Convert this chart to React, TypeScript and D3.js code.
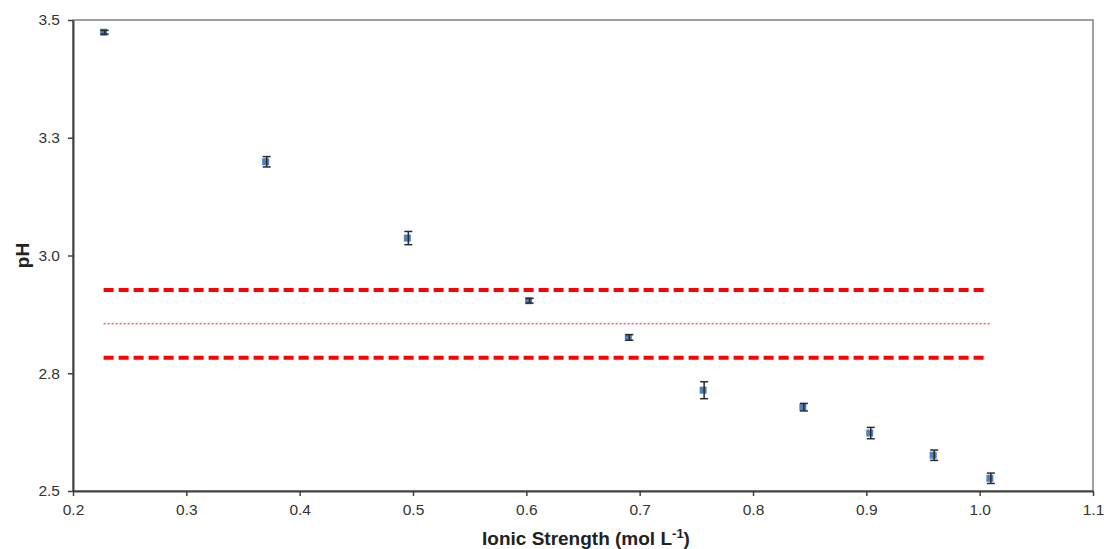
import React, { useEffect, useRef } from 'react';
import * as d3 from 'd3';

// ionic strength (mol/L) vs measured pH, with error bars
const ionicStrength = [0.227, 0.370, 0.495, 0.602, 0.690, 0.756, 0.844, 0.903, 0.959, 1.009];
const phValues = [3.474, 3.199, 3.037, 2.904, 2.826, 2.714, 2.678, 2.623, 2.576, 2.527];
const phErrors = [0.004, 0.011, 0.014, 0.005, 0.006, 0.018, 0.008, 0.012, 0.011, 0.011];

// reference band: mean and limits
const bandMean = 2.855;
const bandLimits = [2.927, 2.783];
const bandRange = [0.227, 1.009];

const xTicks = [0.2, 0.3, 0.4, 0.5, 0.6, 0.7, 0.8, 0.9, 1.0, 1.1];
const yTicks = [2.5, 2.75, 3.0, 3.25, 3.5];

const App = () => {
  const ref = useRef<SVGSVGElement>(null);

  useEffect(() => {
    const width = 1104;
    const height = 549;
    const margin = { top: 20, right: 11, bottom: 58, left: 73 };
    const font = 'Liberation Sans, Arial, sans-serif';

    const svg = d3.select(ref.current);
    svg.selectAll('*').remove();

    const x = d3.scaleLinear()
      .domain([0.2, 1.1])
      .range([margin.left, width - margin.right]);

    const y = d3.scaleLinear()
      .domain([2.5, 3.5])
      .range([height - margin.bottom, margin.top]);

    // frame (top & right)
    svg.append('rect')
      .attr('x', x(0.2))
      .attr('y', y(3.5))
      .attr('width', x(1.1) - x(0.2))
      .attr('height', y(2.5) - y(3.5))
      .attr('fill', 'none')
      .attr('stroke', '#808080')
      .attr('stroke-width', 1.5);

    const xAxis = (g: any) => g
      .attr('transform', `translate(0,${y(2.5)})`)
      .call(d3.axisBottom(x).tickValues(xTicks).tickSize(5).tickSizeOuter(0).tickFormat(d3.format('.1f')))
      .call((g: any) => g.select('.domain').attr('stroke', '#404040').attr('stroke-width', 2))
      .call((g: any) => g.selectAll('.tick line').attr('stroke', '#404040').attr('stroke-width', 1.5))
      .call((g: any) => g.selectAll('.tick text')
        .attr('fill', '#333')
        .attr('font-size', 15.5)
        .attr('font-family', font)
        .attr('dy', '1.05em'));

    const yAxis = (g: any) => g
      .attr('transform', `translate(${x(0.2)},0)`)
      .call(d3.axisLeft(y).tickValues(yTicks).tickSize(5).tickSizeOuter(0).tickFormat(d3.format('.1f')))
      .call((g: any) => g.select('.domain').attr('stroke', '#404040').attr('stroke-width', 2))
      .call((g: any) => g.selectAll('.tick line').attr('stroke', '#404040').attr('stroke-width', 1.5))
      .call((g: any) => g.selectAll('.tick text')
        .attr('fill', '#333')
        .attr('font-size', 15.5)
        .attr('font-family', font)
        .attr('x', -13));

    svg.append('g').call(xAxis);
    svg.append('g').call(yAxis);

    // red reference lines
    svg.selectAll('.limit')
      .data(bandLimits)
      .join('line')
      .attr('x1', x(bandRange[0]))
      .attr('x2', x(bandRange[1]) - 4)
      .attr('y1', d => y(d))
      .attr('y2', d => y(d))
      .attr('stroke', '#ff0000')
      .attr('stroke-width', 4)
      .attr('stroke-dasharray', '10,5');

    svg.append('line')
      .attr('x1', x(bandRange[0]))
      .attr('x2', x(bandRange[1]))
      .attr('y1', y(bandMean))
      .attr('y2', y(bandMean))
      .attr('stroke', '#ff0000')
      .attr('stroke-width', 1)
      .attr('stroke-dasharray', '2,2');

    const data = ionicStrength.map((v, i) => ({ x: v, y: phValues[i], e: phErrors[i] }));

    // markers
    svg.selectAll('.pt')
      .data(data)
      .join('rect')
      .attr('x', d => x(d.x) - 3.5)
      .attr('y', d => y(d.y) - 3.5)
      .attr('width', 7)
      .attr('height', 7)
      .attr('fill', '#4f81bd');

    // error bars
    const eb = svg.selectAll('.eb').data(data).join('g').attr('stroke', '#2a2a2a').attr('stroke-width', 1.5);
    eb.append('line')
      .attr('x1', d => x(d.x) + 1)
      .attr('x2', d => x(d.x) + 1)
      .attr('y1', d => y(d.y + d.e))
      .attr('y2', d => y(d.y - d.e));
    eb.append('line')
      .attr('x1', d => x(d.x) - 3)
      .attr('x2', d => x(d.x) + 5)
      .attr('y1', d => y(d.y + d.e))
      .attr('y2', d => y(d.y + d.e));
    eb.append('line')
      .attr('x1', d => x(d.x) - 3)
      .attr('x2', d => x(d.x) + 5)
      .attr('y1', d => y(d.y - d.e))
      .attr('y2', d => y(d.y - d.e));

    // axis titles
    svg.append('text')
      .attr('transform', `translate(29,${y(3.0)}) rotate(-90)`)
      .attr('text-anchor', 'middle')
      .attr('font-size', 19)
      .attr('font-weight', 'bold')
      .attr('font-family', font)
      .attr('fill', '#222')
      .text('pH');

    const xl = svg.append('text')
      .attr('x', 586)
      .attr('y', 545)
      .attr('text-anchor', 'middle')
      .attr('font-size', 19)
      .attr('font-weight', 'bold')
      .attr('font-family', font)
      .attr('fill', '#222');
    xl.append('tspan').text('Ionic Strength (mol L');
    xl.append('tspan').attr('dy', -7).attr('font-size', 13).text('-1');
    xl.append('tspan').attr('dy', 7).text(')');
  }, []);

  return (
    <svg ref={ref} width={1104} height={549}
      style={{ position: 'absolute', left: 0, top: 0, background: '#fff' }} />
  );
};

export default App;
